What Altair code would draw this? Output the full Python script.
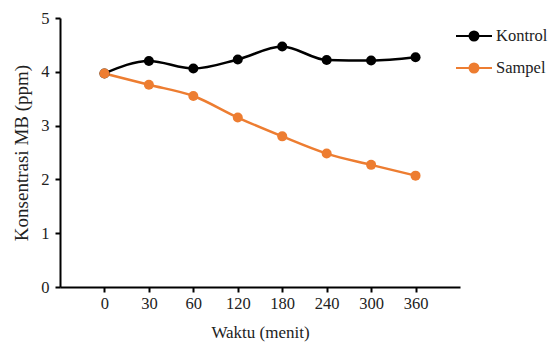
import altair as alt
import pandas as pd

waktu = ["0", "30", "60", "120", "180", "240", "300", "360"]
kontrol = [3.97, 4.20, 4.06, 4.23, 4.47, 4.22, 4.21, 4.27]
sampel = [3.97, 3.76, 3.55, 3.15, 2.80, 2.48, 2.27, 2.07]
series = ["Kontrol", "Sampel"]
colors = ["#000000", "#ED7D31"]

rows = []
for w, k, s in zip(waktu, kontrol, sampel):
    rows.append({"Waktu": w, "Seri": "Kontrol", "Nilai": k})
    rows.append({"Waktu": w, "Seri": "Sampel", "Nilai": s})
df = pd.DataFrame(rows)

FONT = "Liberation Serif"
FS = 16.5
sym = "M-1,0L1,0M0.25,0A0.25,0.25,0,1,1,-0.25,0A0.25,0.25,0,1,1,0.25,0Z"

x = alt.X("Waktu:N", sort=waktu, title="Waktu (menit)",
          scale=alt.Scale(type="point", padding=1),
          axis=alt.Axis(labelAngle=0, domainWidth=2, domainColor="#000", tickColor="#000",
                        tickWidth=2, tickSize=5, labelPadding=3, titlePadding=13,
                        labelFont=FONT, titleFont=FONT, titleFontWeight="normal",
                        labelFontSize=FS, titleFontSize=17, labelColor="#222", titleColor="#222"))
y = alt.Y("Nilai:Q", title="Konsentrasi MB (ppm)",
          scale=alt.Scale(domain=[0, 5], nice=False),
          axis=alt.Axis(values=[0, 1, 2, 3, 4, 5], grid=False, domainWidth=2, domainColor="#000",
                        tickColor="#000", tickWidth=2, tickSize=5, labelPadding=6, titlePadding=9,
                        labelFont=FONT, titleFont=FONT, titleFontWeight="normal",
                        labelFontSize=FS, titleFontSize=19, labelColor="#222", titleColor="#222"))
color = alt.Color("Seri:N", scale=alt.Scale(domain=series, range=colors), title=None,
                  legend=alt.Legend(orient="none", legendX=395, legendY=-1, symbolType=sym,
                                    symbolSize=1296, symbolStrokeWidth=2, labelFontSize=FS,
                                    labelFont=FONT, labelColor="#222", rowPadding=4,
                                    labelOffset=3))

base = alt.Chart(df).encode(x=x, y=y, color=color)
lines = base.mark_line(interpolate="monotone", strokeWidth=2.5)
points = base.mark_point(filled=True, size=100, opacity=1)

chart = (lines + points).properties(
    width=400, height=269,
    autosize=alt.AutoSizeParams(type="none"),
    padding={"left": 52, "top": 10, "right": 92, "bottom": 56},
).configure(font=FONT).configure_view(stroke=None)

chart.save("out.html", embed_options={"renderer": "svg", "actions": False})
